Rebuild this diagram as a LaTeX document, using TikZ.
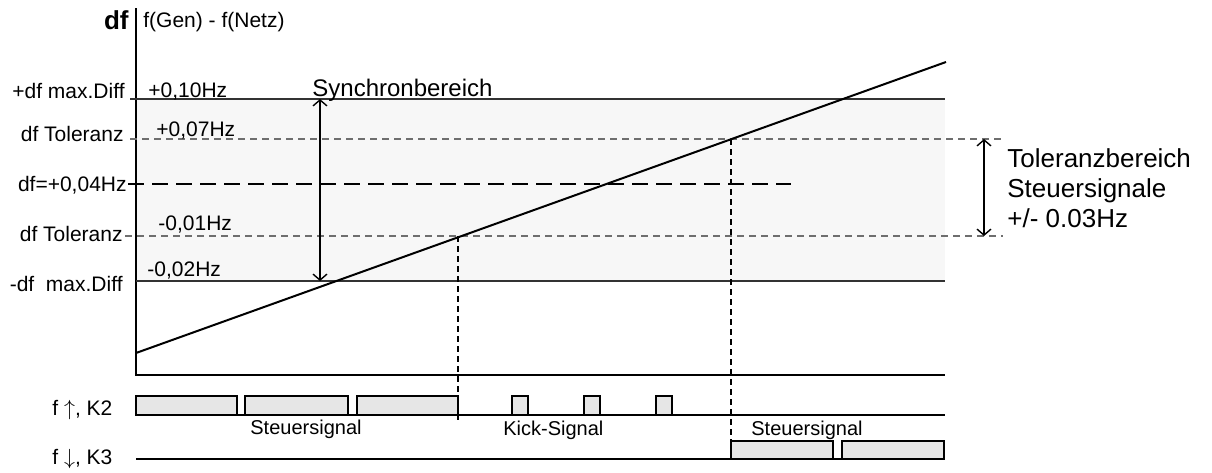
\documentclass[tikz,border=0pt]{standalone}
\usepackage{fontspec}
\setmainfont{Liberation Sans}
\usepackage{xcolor}
\usetikzlibrary{arrows.meta}
\definecolor{ink}{HTML}{000000}
\definecolor{limit}{HTML}{333333}
\definecolor{tolgrey}{HTML}{6E6E6E}
\definecolor{bandbg}{HTML}{F7F7F7}
\definecolor{pulsebg}{HTML}{E6E6E6}
\tikzset{
  axis/.style={draw=ink, line width=1.2pt},
  limitline/.style={draw=limit, line width=1pt},
  tolline/.style={draw=tolgrey, line width=0.7pt, dash pattern=on 3.5pt off 2.5pt},
  setline/.style={draw=ink, line width=1.1pt, dash pattern=on 8pt off 4pt},
  drop/.style={draw=ink, line width=0.6pt, dash pattern=on 3pt off 2pt},
  ramp/.style={draw=ink, line width=1pt},
  span/.style={draw=ink, line width=0.7pt, {Straight Barb[length=3pt,width=7pt]}-{Straight Barb[length=3pt,width=7pt]}},
  pulse/.style={draw=ink, fill=pulsebg, line width=1.1pt},
  lab/.style={text=ink, font=\fontsize{10.5}{12}\selectfont, inner sep=0pt},
  labs/.style={text=ink, font=\fontsize{10}{12}\selectfont, inner sep=0pt},
  labm/.style={text=ink, font=\fontsize{12}{14}\selectfont, inner sep=0pt},
  labb/.style={text=ink, font=\fontsize{13}{15}\selectfont, inner sep=0pt},
}

\begin{document}
\begin{tikzpicture}[x=0.5pt,y=-0.5pt]
  \useasboundingbox (0,0) rectangle (1212,472);
  \fill[bandbg] (136,99) rectangle (945,281);

  % axes
  \coordinate (top) at (136,8);
  \coordinate (o) at (136,375);
  \coordinate (xend) at (945,375);
  \draw[axis] (top) -- (o) -- (xend);
  \node[labb, font=\bfseries\fontsize{13}{15}\selectfont, anchor=base east] (df) at (129,29) {df};
  \node[lab, anchor=base west] (diff) at (143,27) {f(Gen) - f(Netz)};

  % limits and tolerances
  \draw[limitline] (130,99) -- (945,99);
  \draw[limitline] (136,281) -- (945,281);
  \draw[tolline] (130,139) -- (1003,139);
  \draw[tolline] (125,236) -- (1003,236);
  \draw[setline] (128,184) -- (791,184);

  \node[lab, anchor=base east] (maxp) at (125,98) {+df max.Diff};
  \node[lab, anchor=base east] (tolp) at (124,141) {df Toleranz};
  \node[lab, anchor=base east] (soll) at (127,191.5) {df=+0,04Hz};
  \node[lab, anchor=base east] (tolm) at (123,241.5) {df Toleranz};
  \node[lab, anchor=base east] (maxm) at (123,291.5) {-df~~max.Diff};
  \node[lab, anchor=base west] (hzp10) at (148,97) {+0,10Hz};
  \node[lab, anchor=base west] (hzp07) at (156,136) {+0,07Hz};
  \node[lab, anchor=base west] (hzm01) at (158,230.5) {-0,01Hz};
  \node[lab, anchor=base west] (hzm02) at (147,276.5) {-0,02Hz};

  % ramp f(Gen) - f(Netz)
  \coordinate (r0) at (136,353);
  \coordinate (r1) at (946,62);
  \draw[ramp] (r0) -- (r1);
  \coordinate (lo) at (458,236);
  \coordinate (hi) at (731,139);
  \draw[drop] (lo) -- (458,420);
  \draw[drop] (hi) -- (731,459);

  % ranges
  \coordinate (sTop) at (320,99);
  \coordinate (sBot) at (320,281);
  \draw[span] (sTop) -- (sBot);
  \node[labm, anchor=base west] (sync) at (312,96) {Synchronbereich};
  \coordinate (tTop) at (984,139);
  \coordinate (tBot) at (984,236);
  \draw[span] (tTop) -- (tBot);
  \node[labb, anchor=west, align=left] (tolb) at (1007,188) {Toleranzbereich\\Steuersignale\\+/- 0.03Hz};

  % signals
  \draw[axis, line width=1.1pt] (136,415) -- (945,415);
  \draw[axis, line width=1.1pt] (136,459) -- (945,459);
  \foreach \a/\b in {136/237,245/348,357/458,512/528,584/600,656/672}{
    \draw[pulse] (\a,415) rectangle (\b,396);
  }
  \foreach \a/\b in {731/833,842/944}{
    \draw[pulse] (\a,459) rectangle (\b,441);
  }
  \node[lab, anchor=base west] (k2) at (52,415) {f $\uparrow$, K2};
  \node[lab, anchor=base west] (k3) at (52,464) {f $\downarrow$, K3};
  \node[labs, anchor=base west] (st1) at (250,434.5) {Steuersignal};
  \node[labs, anchor=base west] (kick) at (503,435) {Kick-Signal};
  \node[labs, anchor=base west] (st2) at (751,435) {Steuersignal};
\end{tikzpicture}
\end{document}
